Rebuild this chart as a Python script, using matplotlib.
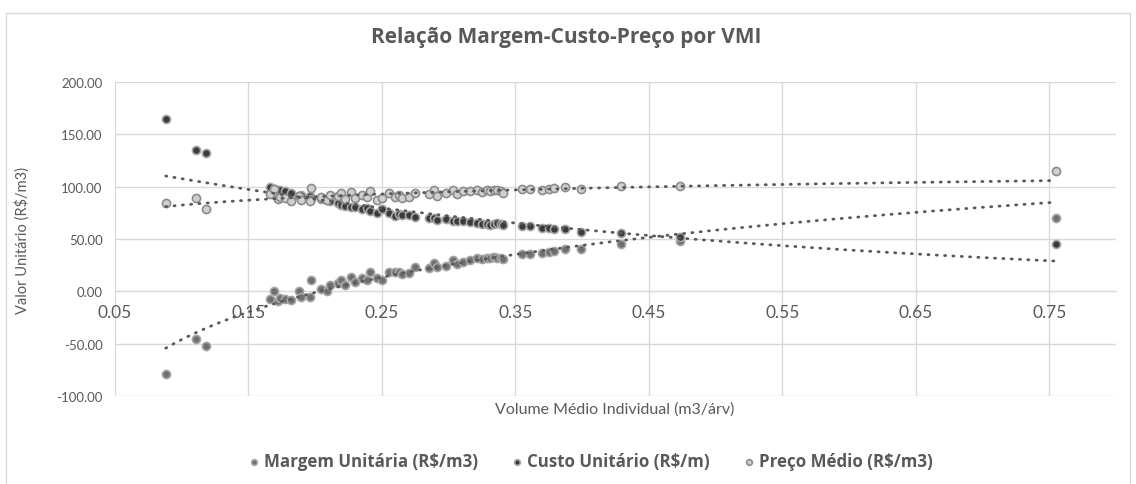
import numpy as np
import matplotlib
matplotlib.use("Agg")
import matplotlib.pyplot as plt
from matplotlib.patches import Rectangle

plt.rcParams['font.family'] = ['Lato', 'DejaVu Sans']
BOLD_FONT = ['Open Sans', 'DejaVu Sans']

# Volume médio individual (m3/árv)
vmi = [0.088, 0.111, 0.118, 0.166, 0.169, 0.172, 0.174, 0.177, 0.182, 0.188,
       0.189, 0.196, 0.197, 0.204, 0.209, 0.211, 0.217, 0.219, 0.222, 0.227,
       0.230, 0.235, 0.239, 0.241, 0.246, 0.250, 0.255, 0.260, 0.263, 0.265,
       0.270, 0.275, 0.285, 0.289, 0.291, 0.298, 0.303, 0.306, 0.311, 0.316,
       0.321, 0.325, 0.329, 0.331, 0.334, 0.336, 0.339, 0.341, 0.355, 0.361,
       0.370, 0.375, 0.379, 0.387, 0.399, 0.429, 0.473, 0.755]
preco = [84.5, 89.5, 78.5, 93.0, 98.0, 88.0, 90.0, 89.0, 86.0, 91.0,
         87.0, 86.5, 99.0, 90.5, 87.5, 92.0, 91.5, 93.5, 88.5, 94.5,
         89.5, 92.0, 90.5, 95.5, 87.5, 89.0, 93.5, 90.5, 92.5, 89.5,
         90.5, 94.0, 93.0, 97.0, 91.5, 93.5, 97.0, 93.0, 95.5, 96.0,
         97.0, 95.0, 96.5, 95.5, 97.0, 96.5, 95.5, 94.0, 98.0, 98.0,
         97.0, 98.0, 98.5, 100.0, 97.5, 100.5, 100.5, 114.5]
custo = [165.0, 135.0, 132.0, 100.0, 98.0, 97.0, 96.5, 96.0, 94.0, 91.0,
         92.0, 91.5, 88.5, 88.5, 87.0, 86.0, 84.0, 82.5, 82.0, 80.5,
         80.5, 79.0, 79.5, 77.0, 75.0, 78.5, 75.0, 72.0, 74.0, 72.5,
         73.0, 71.0, 70.5, 70.0, 68.5, 69.5, 67.0, 67.0, 67.5, 66.5,
         65.0, 64.5, 64.5, 63.5, 64.0, 65.0, 64.0, 63.5, 62.5, 62.5,
         60.5, 60.5, 59.5, 60.0, 57.0, 55.5, 52.0, 45.5]
margem = [-79.0, -46.0, -52.0, -7.0, 0.0, -9.0, -6.5, -7.0, -8.0, 0.0,
          -5.0, -5.0, 10.5, 2.0, 0.5, 6.0, 7.5, 11.0, 6.5, 14.0,
          9.0, 13.0, 11.0, 18.5, 12.5, 10.5, 18.5, 18.5, 18.5, 17.0,
          17.5, 23.0, 22.5, 27.0, 23.0, 24.0, 30.0, 26.0, 28.0, 29.5,
          32.0, 30.5, 32.0, 32.0, 33.0, 31.5, 31.5, 30.5, 35.5, 35.5,
          36.5, 37.5, 39.0, 40.0, 40.5, 45.0, 48.5, 70.0]

x_ticks = [0.05, 0.15, 0.25, 0.35, 0.45, 0.55, 0.65, 0.75]
y_ticks = [-100, -50, 0, 50, 100, 150, 200]

txt = '#595959'
grid = '#d9d9d9'


def trend(x, y, kind):
    """Excel-style trendline: 'log' or 'exp'"""
    xs = np.linspace(x.min(), x.max(), 200)
    if kind == 'exp':
        b, a = np.polyfit(x, np.log(y), 1)
        return xs, np.exp(a) * np.exp(b * xs)
    b, a = np.polyfit(np.log(x), y, 1)
    return xs, a + b * np.log(xs)


fig = plt.figure(figsize=(11.36, 4.85), dpi=100)
fig.patches.append(Rectangle((6 / 1136, -0.01), 1124 / 1136, 1 - 14 / 485 + 0.01,
                             transform=fig.transFigure, fill=False,
                             edgecolor='#d9d9d9', lw=1))
ax = fig.add_axes([115 / 1136, 1 - 397 / 485, (1116 - 115) / 1136, (397 - 83) / 485])

x = np.array(vmi)
series = [
    ('Margem Unitária (R\\$/m3)', np.array(margem), '#6f6f6f', '#a6a6a6', 'log'),
    ('Custo Unitário (R\\$/m)', np.array(custo), '#3a3a3a', '#a6a6a6', 'exp'),
    ('Preço Médio (R\\$/m3)', np.array(preco), '#d0d0d0', '#8c8c8c', 'log'),
]

for label, y, face, edge, kind in series:
    ax.scatter(x, y, s=34, c=face, edgecolors=edge, linewidths=1.2,
               label=label, zorder=3)
    xs, ys = trend(x, y, kind)
    ax.plot(xs, ys, color='#595959', lw=2,
            linestyle=(0, (0.4, 2.6)), dash_capstyle='round', zorder=4)

ax.set_xlim(0.05, 0.80)
ax.set_ylim(-100, 200)
ax.set_xticks(x_ticks)
ax.set_xticklabels(['%.2f' % t for t in x_ticks])
ax.set_yticks(y_ticks)
ax.set_yticklabels(['%.2f' % t for t in y_ticks])
ax.grid(True, color=grid, lw=1)
ax.set_axisbelow(True)
for s in ['top', 'right', 'left']:
    ax.spines[s].set_visible(False)
ax.spines['bottom'].set_position(('data', 0))
ax.spines['bottom'].set_color(grid)
ax.tick_params(axis='both', length=0, colors=txt)
ax.tick_params(axis='x', labelsize=12.5, pad=9)
ax.tick_params(axis='y', labelsize=9.5, pad=9)

fig.text(566 / 1136, 1 - 37 / 485, 'Relação Margem-Custo-Preço por VMI', fontsize=15,
         fontweight='bold', family=BOLD_FONT, color=txt, ha='center', va='center')
fig.text(22 / 1136, 1 - 240 / 485, 'Valor Unitário (R\\$/m3)', rotation=90,
         ha='center', va='center', fontsize=10.5, color=txt)
fig.text(615 / 1136, 1 - 410 / 485, 'Volume Médio Individual (m3/árv)',
         ha='center', va='center', fontsize=11.5, color=txt)

leg = fig.legend(loc='center', bbox_to_anchor=(589 / 1136, 1 - 462 / 485), ncol=3,
                 frameon=False, markerscale=0.7, handletextpad=0.1,
                 columnspacing=1.8, handlelength=1,
                 prop={'family': BOLD_FONT, 'weight': 'bold', 'size': 12.2})
for t in leg.get_texts():
    t.set_color(txt)

fig.savefig('out.png', dpi=100)
